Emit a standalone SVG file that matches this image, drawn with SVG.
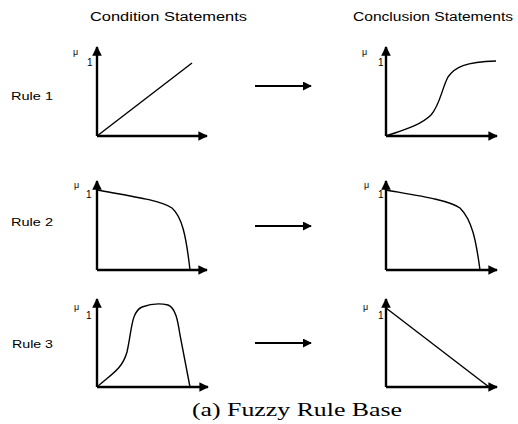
<svg xmlns="http://www.w3.org/2000/svg" width="518" height="424" viewBox="0 0 518 424">
<defs>
<marker id="ah" viewBox="0 0 10 10" refX="9" refY="5" markerWidth="4" markerHeight="4" orient="auto" markerUnits="strokeWidth">
<path d="M0,0 L10,5 L0,10 z" fill="#000"/>
</marker>
<marker id="ah2" viewBox="0 0 10 10" refX="9" refY="5" markerWidth="5" markerHeight="5" orient="auto" markerUnits="strokeWidth">
<path d="M0,0 L10,5 L0,10 z" fill="#000"/>
</marker>
</defs>
<style>
.hd{font-family:"Liberation Sans",Arial,sans-serif;font-size:12px;fill:#000}
.rl{font-family:"Liberation Sans",Arial,sans-serif;font-size:11px;fill:#000}
.mu{font-family:"Liberation Sans",Arial,sans-serif;font-size:9px;fill:#000}
.one{font-family:"Liberation Sans",Arial,sans-serif;font-size:10px;fill:#000}
.cap{font-family:"Liberation Serif","Times New Roman",serif;font-size:18px;fill:#000}
.ax{fill:none;stroke:#000;stroke-width:2.4;marker-end:url(#ah)}
.cv{fill:none;stroke:#000;stroke-width:1.4}
.conn{fill:none;stroke:#000;stroke-width:1.8;marker-end:url(#ah2)}
</style>
<rect width="518" height="424" fill="#fff"/>
<text class="hd" x="90" y="21" textLength="157" lengthAdjust="spacingAndGlyphs">Condition Statements</text>
<text class="hd" x="353" y="21" textLength="160" lengthAdjust="spacingAndGlyphs">Conclusion Statements</text>
<text class="rl" x="11" y="100" textLength="42" lengthAdjust="spacingAndGlyphs">Rule 1</text>
<text class="rl" x="11" y="226" textLength="42" lengthAdjust="spacingAndGlyphs">Rule 2</text>
<text class="rl" x="12" y="348" textLength="41" lengthAdjust="spacingAndGlyphs">Rule 3</text>

<g id="r1c">
<path class="ax" d="M97,136 V47"/>
<path class="ax" d="M97,136 H207"/>
<text class="mu" x="73" y="55">μ</text>
<text class="one" x="87" y="66">1</text>
<path class="cv" d="M97,136 L192,63"/>
</g>
<g id="r1q">
<path class="ax" d="M386,136 V47"/>
<path class="ax" d="M386,136 H497"/>
<text class="mu" x="362" y="55">μ</text>
<text class="one" x="378" y="66">1</text>
<path class="cv" d="M386,136 C400,131 420,126 431,115 C440,105 442,88 448,77 C455,67 465,62 496,61"/>
</g>
<g id="r2c">
<path class="ax" d="M97,270 V181"/>
<path class="ax" d="M97,270 H207"/>
<text class="mu" x="74" y="188">μ</text>
<text class="one" x="86" y="198">1</text>
<path class="cv" d="M97,190 C130,196 160,200 172,208 C182,217 186,235 190,270"/>
</g>
<g id="r2q">
<path class="ax" d="M386,270 V181"/>
<path class="ax" d="M386,270 H497"/>
<text class="mu" x="364" y="188">μ</text>
<text class="one" x="378" y="198">1</text>
<path class="cv" d="M386,190 C420,196 448,200 460,208 C472,220 476,240 480,270"/>
</g>
<g id="r3c">
<path class="ax" d="M97,387 V299"/>
<path class="ax" d="M97,387 H208"/>
<text class="mu" x="74" y="310">μ</text>
<text class="one" x="86" y="319">1</text>
<path class="cv" d="M97,387 C110,375 122,370 127,352 C132,330 131,312 142,307 C150,304 160,303 168,305 C176,308 178,322 180,335 L190,387"/>
</g>
<g id="r3q">
<path class="ax" d="M386,387 V299"/>
<path class="ax" d="M386,387 H497"/>
<text class="mu" x="363" y="310">μ</text>
<text class="one" x="378" y="319">1</text>
<path class="cv" d="M386,308 L489,387"/>
</g>
<g id="connectors">
<path class="conn" d="M255,86 H311"/>
<path class="conn" d="M255,226 H311"/>
<path class="conn" d="M255,343 H311"/>
</g>
<text class="cap" x="192" y="416" textLength="210" lengthAdjust="spacingAndGlyphs">(a) Fuzzy Rule Base</text>
</svg>
